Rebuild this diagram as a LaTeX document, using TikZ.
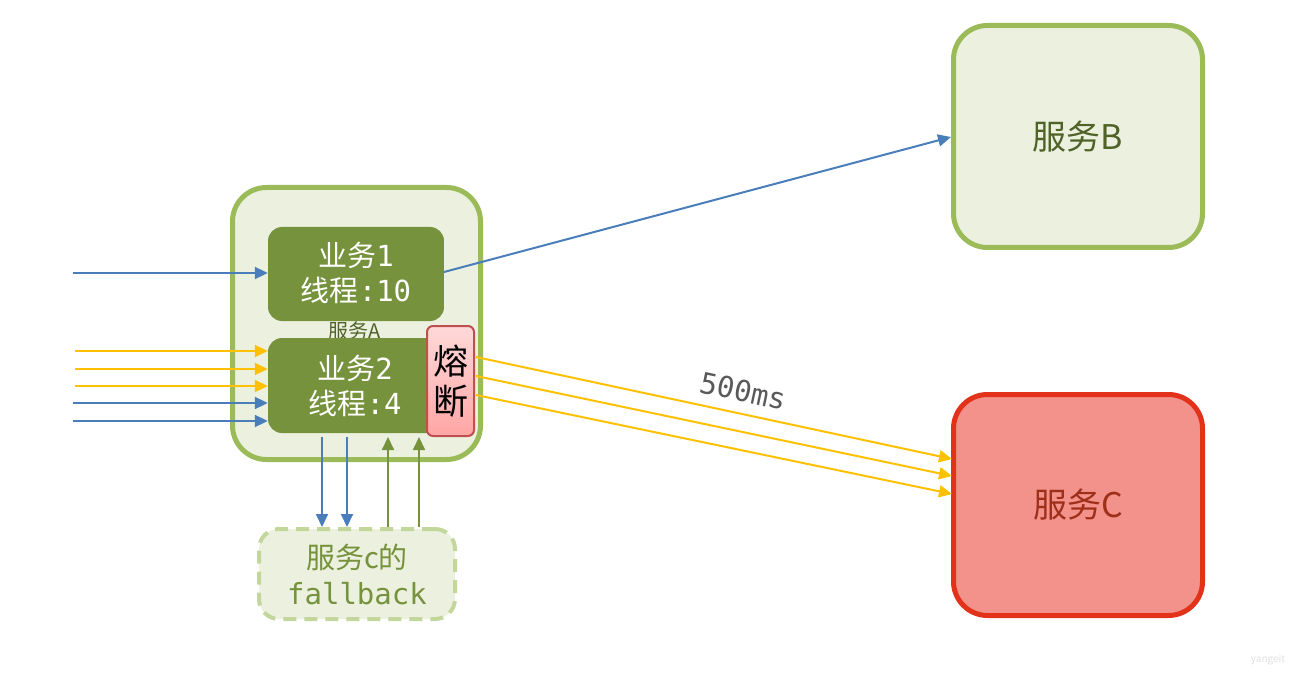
\documentclass[tikz,border=0pt]{standalone}
\usepackage{fontspec}
\setmainfont{Noto Sans CJK SC}
\newfontfamily\cjk{Noto Sans CJK SC}
\newfontfamily\mono{DejaVu Sans Mono}
\usetikzlibrary{arrows.meta}
\definecolor{gborder}{HTML}{9BBB59}
\definecolor{gfill}{HTML}{EBF1DE}
\definecolor{olive}{HTML}{76923C}
\definecolor{dolive}{HTML}{4F6228}
\definecolor{lblue}{HTML}{4A7EBB}
\definecolor{amber}{HTML}{FFC000}
\definecolor{redb}{HTML}{E2321A}
\definecolor{redf}{HTML}{F2928A}
\definecolor{redt}{HTML}{9E2F1A}
\definecolor{fbborder}{HTML}{C3D69B}
\definecolor{pinkb}{HTML}{C0504D}
\definecolor{ltxt}{HTML}{595959}
\pgfdeclareverticalshading{bizshade}{100bp}{color(0bp)=(olive!88!black); color(7bp)=(olive); color(86bp)=(olive); color(100bp)=(olive!62!black)}
\tikzset{
  svc/.style={draw=gborder, fill=gfill, line width=5pt, rounded corners=34pt},
  biz/.style={shading=bizshade, rounded corners=14pt, inner sep=0pt},
  biztext/.style={text=white, align=center, font=\cjk\fontsize{29}{35}\selectfont},
  fuse/.style={draw=pinkb, line width=2pt, rounded corners=6pt, top color=pink!60, bottom color=red!35,
    align=center, font=\cjk\fontsize{35}{40}\selectfont, inner sep=0pt},
  fb/.style={draw=fbborder, fill=gfill, line width=4pt, dash pattern=on 13pt off 8pt,
    rounded corners=20pt, text=olive, align=center, font=\cjk\fontsize{29}{36}\selectfont},
  ab/.style={line width=2pt, lblue, -{Triangle[length=13pt,width=12pt]}},
  ay/.style={line width=2pt, amber, -{Triangle[length=13pt,width=12pt]}},
  ag/.style={line width=2pt, olive, -{Triangle[length=13pt,width=12pt]}},
}
\begin{document}
\begin{tikzpicture}[x=1pt,y=-1pt]
\useasboundingbox (0,0) rectangle (1300,676);
% services
\node[svc, minimum width=248pt, minimum height=272pt] (A) at (356.5,323.5) {};
\node[svc, minimum width=249pt, minimum height=222pt, text=dolive,
  font=\cjk\fontsize{34}{38}\selectfont] (B) at (1078,136.5) {服务B};
\node[draw=redb, fill=redf, line width=5pt, rounded corners=34pt,
  minimum width=249pt, minimum height=221pt, text=redt,
  font=\cjk\fontsize{34}{38}\selectfont] (C) at (1078,505) {服务C};
% business boxes
\node[biz, minimum width=176pt, minimum height=94pt] (b1) at (356,274) {};
\node[biztext] (b1t) at (356,273) {业务{\mono 1}\\线程{\mono :10}};
\node[text=dolive, font=\cjk\fontsize{20}{22}\selectfont] (Alab) at (355,331) {服务A};
\node[biz, minimum width=172pt, minimum height=95pt] (b2) at (354,385.5) {};
\node[biztext] (b2t) at (355,386) {业务{\mono 2}\\线程{\mono :4}};
\node[fuse, minimum width=47pt, minimum height=110pt] (F) at (450.5,381) {熔\\断};
% fallback
\node[fb, minimum width=196pt, minimum height=90pt] (fb) at (357,574)
  {服务c的\\{\mono fallback}};
% inputs
\coordinate (i1) at (73,273);
\coordinate (y1) at (75,351);
\coordinate (y2) at (75,369);
\coordinate (y3) at (75,386);
\coordinate (i2) at (73,403);
\coordinate (i3) at (73,421);
\draw[ab] (i1) -- (i1 -| b1.west);
\draw[ay] (y1) -- (y1 -| b2.west);
\draw[ay] (y2) -- (y2 -| b2.west);
\draw[ay] (y3) -- (y3 -| b2.west);
\draw[ab] (i2) -- (i2 -| b2.west);
\draw[ab] (i3) -- (i3 -| b2.west);
% to B
\coordinate (o1) at (444,272);
\coordinate (bt) at (951,137);
\draw[ab] (o1) -- (bt);
% to C
\coordinate (s1) at (476,357);
\coordinate (s2) at (476,376);
\coordinate (s3) at (476,395);
\coordinate (t1) at (952,459);
\coordinate (t2) at (952,476);
\coordinate (t3) at (952,494);
\draw[ay] (s1) -- (t1);
\draw[ay] (s2) -- (t2);
\draw[ay] (s3) -- (t3);
\node[text=ltxt, rotate=-12, font=\mono\fontsize{29}{32}\selectfont] (ms) at (743,391) {500ms};
% fallback arrows
\coordinate (d1) at (322,437);
\coordinate (d2) at (347,437);
\coordinate (u1) at (388,437);
\coordinate (u2) at (419,437);
\draw[ab] (d1) -- (d1 |- fb.north);
\draw[ab] (d2) -- (d2 |- fb.north);
\draw[ag] (u1 |- fb.north) -- (u1);
\draw[ag] (u2 |- fb.north) -- (u2);
% watermark
\node[text=black!12, font=\cjk\fontsize{10}{12}\selectfont] (wm) at (1268,660) {yangeit};
\end{tikzpicture}
\end{document}
